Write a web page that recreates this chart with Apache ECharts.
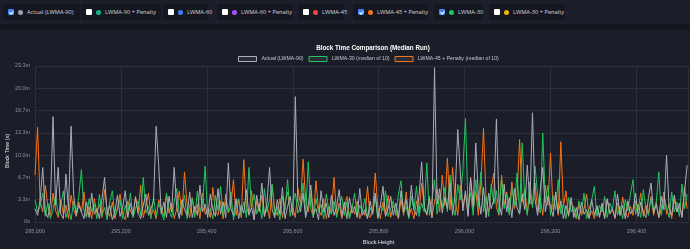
<!DOCTYPE html>
<html><head><meta charset="utf-8">
<script src="https://cdn.jsdelivr.net/npm/echarts@6/dist/echarts.min.js"></script>
<style>
html,body{margin:0;padding:0;width:690px;height:249px;background:#1b1e29;overflow:hidden;font-family:"Open Sans","Noto Sans",sans-serif;}
#bar{position:absolute;left:0;top:0;width:690px;height:24px;background:#1c1f2a;}
#strip{position:absolute;left:0;top:24px;width:690px;height:6px;background:#15171f;}
.btn{position:absolute;top:4px;height:16px;background:#141720;border-radius:2px;display:flex;align-items:center;font-size:5.7px;color:#d4d7de;white-space:nowrap;box-sizing:border-box;}
.cb{flex:0 0 auto;display:block;width:6px;height:6px;margin-left:5px;border-radius:1px;background:#fff;position:relative;}
.cb.on{background:#3b82f6;}
.cb.on:after{content:"";position:absolute;left:2px;top:0.6px;width:1.5px;height:3px;border:solid #fff;border-width:0 1px 1px 0;transform:rotate(45deg);}
.dot{flex:0 0 auto;display:block;width:5px;height:5px;border-radius:50%;margin-left:4px;margin-right:4px;}
.lbl{flex:0 0 auto;}
#chart{position:absolute;left:0;top:0;width:690px;height:249px;}
</style></head>
<body>
<div id="chart"></div>
<div id="bar"></div><div id="strip"></div>
<div id="btns"></div>
<script>
// ---- data ----
const startBlock = 295000;
const blockStep = 6;
const xTicks = [295000, 295200, 295400, 295600, 295800, 296000, 296200, 296400];
const yTicksSec = [0, 200, 400, 600, 800, 1000, 1200, 1400];

const actualLWMA90 = [
120,60,200,490,90,40,180,945,150,490,70,30,430,110,860,240,60,150,90,30,
180,40,260,70,120,30,210,400,60,150,20,90,240,50,130,280,40,170,60,220,
80,30,150,250,60,120,190,860,500,70,180,40,230,90,490,130,30,200,110,60,
270,40,140,60,330,90,160,40,250,110,50,300,70,180,40,530,120,60,210,30,
150,80,290,60,130,20,240,100,350,50,170,490,110,40,200,70,310,30,140,230,
60,1125,180,90,260,40,150,330,70,120,20,280,90,170,40,240,60,130,290,50,
180,30,220,80,140,40,300,60,110,30,190,70,260,40,150,320,50,120,230,60,
170,40,280,90,200,50,330,110,60,240,540,130,70,210,40,1385,160,300,80,220,
120,350,60,250,830,450,100,280,50,390,140,710,230,70,310,40,260,120,200,925,
180,60,340,90,220,40,300,130,70,250,110,510,160,980,200,60,280,490,90,230,
140,50,270,80,190,30,150,60,220,40,130,20,180,70,110,30,200,60,140,40,
170,30,210,80,120,40,250,60,150,30,190,70,110,260,50,180,90,40,220,350,
80,160,40,230,110,600,130,60,240,90,170,40,280,510];

const lwma30 = [
200,90,140,260,50,170,30,110,240,60,150,280,40,120,20,190,80,230,470,100,
40,210,90,160,30,250,60,130,20,180,280,50,110,200,30,150,70,260,40,120,
190,60,400,80,140,30,220,50,170,90,20,260,110,40,180,300,60,130,240,30,
150,210,40,280,90,160,500,70,120,30,240,100,320,50,180,90,270,20,140,210,
60,180,40,490,130,250,70,160,30,300,90,200,340,60,140,20,230,110,380,50,
170,260,80,140,350,60,540,120,40,210,90,160,30,250,110,70,190,40,140,230,
60,180,30,120,260,50,150,90,210,40,130,70,230,30,160,100,280,50,120,190,
60,250,370,80,140,30,230,110,320,50,170,90,530,60,200,380,70,240,130,310,
90,420,150,60,340,200,470,930,120,260,60,380,140,450,90,230,50,340,160,280,
70,390,120,250,60,310,150,440,90,710,210,60,360,130,500,240,80,800,170,330,
60,240,110,380,70,160,30,220,90,140,40,190,80,260,30,120,200,320,50,150,
90,230,40,170,110,280,60,140,30,200,100,250,380,70,160,40,290,120,60,210,
100,170,450,60,230,130,40,270,90,180,50,340,120,250];

const lwma45Penalty = [
420,850,180,90,330,140,60,260,100,40,200,70,150,30,240,110,50,180,90,270,
60,140,30,210,80,160,40,290,110,50,180,30,130,250,70,20,190,100,50,230,
80,330,40,140,260,60,110,30,200,130,50,240,80,170,30,120,280,60,450,150,
40,220,90,160,30,260,70,130,40,310,100,60,190,30,250,80,140,380,60,200,
40,560,130,70,280,30,190,90,240,50,150,30,330,110,60,210,40,170,270,80,
130,40,300,160,565,200,90,250,40,370,110,60,210,30,140,80,400,60,170,30,
120,230,40,150,70,190,30,110,60,320,40,90,440,130,30,180,60,240,40,150,
90,30,200,60,270,40,120,30,190,80,350,140,60,230,40,180,300,90,420,150,
575,110,490,200,60,330,140,250,70,400,120,280,60,350,840,190,90,300,440,130,
60,420,150,270,80,360,120,230,740,180,300,70,260,140,350,90,220,60,330,150,
620,110,240,60,720,140,280,50,190,90,30,160,60,120,250,40,100,30,150,60,
130,40,200,70,110,30,170,60,225,90,40,140,60,190,110,260,50,150,80,230,
60,180,40,120,270,70,160,30,210,90,140,50,315,120];

const seriesNames = ['Actual (LWMA-90)', 'LWMA-30 (median of 10)', 'LWMA-45 + Penalty (median of 10)'];
const seriesColors = ['#a9aeb7', '#22c55e', '#f97316'];

const toggleLabels = ['Actual (LWMA-90)','LWMA-90 + Penalty','LWMA-60','LWMA-60 + Penalty','LWMA-45','LWMA-45 + Penalty','LWMA-30','LWMA-30 + Penalty'];
const toggleChecked = [true,false,false,false,false,true,true,false];
const toggleDots = ['#9ca3af','#10b981','#3b82f6','#a855f7','#ef4444','#f97316','#22c55e','#eab308'];
const toggleLeft = [3,81,163,217,298,353,434,489];
const toggleWidth = [77,80,45,76,47,75,49,76];

// ---- toggle bar ----
const btns = document.getElementById('btns');
toggleLabels.forEach((t,i)=>{
  const d = document.createElement('div');
  d.className='btn';
  d.style.left = toggleLeft[i]+'px';
  d.style.width = toggleWidth[i]+'px';
  d.innerHTML = '<span class="cb'+(toggleChecked[i]?' on':'')+'"></span><span class="dot" style="background:'+toggleDots[i]+'"></span><span class="lbl">'+t+'</span>';
  btns.appendChild(d);
});

// ---- chart ----
const toPairs = arr => arr.map((v,i)=>[startBlock + i*blockStep, v]);
const chart = echarts.init(document.getElementById('chart'), null, {renderer:'canvas'});
const fmtY = v => v === 0 ? '0s' : (v/60).toFixed(1) + 'm';
const dataSets = [actualLWMA90, lwma30, lwma45Penalty];
const fam = 'Arial, Liberation Sans, sans-serif';
chart.setOption({
  backgroundColor: 'transparent',
  animation: false,
  title: {
    text: 'Block Time Comparison (Median Run)',
    left: 368, top: 40, textAlign: 'center',
    textStyle: {color:'#ffffff', fontSize: 6.3, fontWeight:'bold', fontFamily: fam}
  },
  legend: {
    left: 238, top: 56, padding: 0, itemWidth: 18, itemHeight: 5, itemGap: 5,
    textStyle: {color:'#c3c7cf', fontSize: 5.2, fontFamily: fam},
    data: seriesNames.map((n,i)=>({name:n, icon:'rect', itemStyle:{color:'rgba(40,44,56,1)', borderColor: seriesColors[i], borderWidth:1}}))
  },
  graphic: [{
    type: 'text', x: 8, y: 151, rotation: Math.PI/2,
    style: {text: 'Block Time (s)', fill: '#e0e2e6', font: '5.4px Arial, Liberation Sans, sans-serif', textAlign: 'center', textVerticalAlign: 'middle'}
  }],
  grid: {left: 35, right: 2, top: 66, bottom: 27, containLabel: false, outerBoundsMode: 'none'},
  xAxis: {
    type: 'value', min: xTicks[0], max: 296520, interval: 200,
    name: 'Block Height', nameLocation: 'middle', nameGap: 17,
    nameTextStyle: {color:'#e0e2e6', fontSize: 5.6, fontFamily: fam, padding:[0,0,0,34]},
    axisLine: {show:false}, axisTick: {show:false},
    axisLabel: {color:'#8e939c', fontSize: 5.4, margin: 7, showMaxLabel:false, fontFamily: fam,
      formatter: v => xTicks.includes(v) ? v.toLocaleString('en-US') : ''},
    splitLine: {show:true, lineStyle:{color:'#2c303a', width:1}}
  },
  yAxis: {
    type: 'value', min: 0, max: yTicksSec[yTicksSec.length-1], interval: 200,
    axisLine: {show:false}, axisTick: {show:false},
    axisLabel: {color:'#8e939c', fontSize: 5.4, margin: 5, formatter: fmtY, fontFamily: fam},
    splitLine: {show:true, lineStyle:{color:'#2c303a', width:1}}
  },
  series: [2,1,0].map(i=>({
    name: seriesNames[i], type:'line', data: toPairs(dataSets[i]),
    showSymbol:false, symbol:'none', sampling: null,
    lineStyle:{color: seriesColors[i], width: 1},
    itemStyle:{color: seriesColors[i]},
    z: 3 - i
  }))
});
</script>
</body></html>
